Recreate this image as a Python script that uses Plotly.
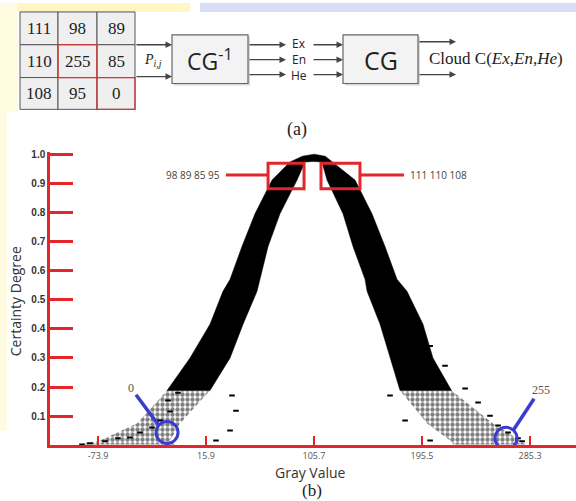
import plotly.graph_objects as go

# ---------------- data ----------------
x_tick_vals = [-73.9, 15.9, 105.7, 195.5, 285.3]
y_tick_vals = [0.1, 0.2, 0.3, 0.4, 0.5, 0.6, 0.7, 0.8, 0.9, 1.0]

# pixel matrix of panel (a)
table_values = [[111, 98, 89],
                [110, 255, 85],
                [108, 95, 0]]

# cloud envelopes (dense part, y >= 0.188)
lev_left = [0.188, 0.300, 0.416, 0.529, 0.570, 0.683, 0.795, 0.911, 0.973]
left_outer = [-16.5, 2.6, 19.2, 30.0, 35.9, 45.8, 56.6, 70.8, 85.7]
left_inner = [19.2, 35.9, 46.7, 58.3, 60.8, 67.5, 77.4, 91.6, 98.2]
lev_right = [0.973, 0.911, 0.795, 0.683, 0.570, 0.529, 0.416, 0.300, 0.188]
right_inner = [112.3, 116.5, 129.8, 138.1, 148.1, 149.8, 160.6, 168.9, 177.2]
right_outer = [120.7, 139.8, 153.9, 164.7, 174.7, 183.0, 196.3, 204.6, 220.0]
cap_x = [96.0, 105.7, 115.0]
cap_y = [0.993, 1.0, 0.993]
inner_apex = (105.0, 0.975)

# sparse tails (y < 0.188)
tail_lev = [0.188, 0.075, 0.017, 0.003]
tail_left_outer = [-16.5, -41.5, -72.2, -90.0]
tail_left_inner = [19.2, -5.7, -14.0, -10.0]
tail_right_inner = [177.2, 199.7, 218.8, 222.0]
tail_right_outer = [220.0, 254.5, 277.0, 282.0]

# scattered drops outside the envelope
drop_x = [-87.2, -80.6, -68.1, -57.3, -47.3, -39.0, -29.0, -22.3, -14.0, -15.7, -7.4, -1.6,
          9.2, 15.1, 20.9, 27.5, 37.5, 44.2, 37.5, 40.8, 24.2, 35.9,
          173.1, 187.2, 177.2, 202.2, 214.6, 168.9, 181.4, 202.2, 231.3, 242.1, 252.0,
          258.7, 267.0, 275.3, 278.7]
drop_y = [0.003, 0.007, 0.014, 0.024, 0.027, 0.044, 0.061, 0.085, 0.116, 0.154, 0.181, 0.235,
          0.263, 0.324, 0.379, 0.433, 0.495, 0.556, 0.171, 0.119, 0.017, 0.051,
          0.461, 0.410, 0.358, 0.341, 0.273, 0.171, 0.085, 0.017, 0.195, 0.147, 0.102,
          0.068, 0.044, 0.024, 0.014]

# highlighted drops (gray values 0 and 255)
hl_x = [-16.5, 265.3]
hl_y = [0.044, 0.024]
hl_labels = ["0", "255"]

W, H = 576, 501
def X(px):
    return px / W
def Y(py):
    return 1 - py / H

fig = go.Figure()

# dense part of the cloud
poly_x = left_outer + cap_x + right_outer[1:] + right_inner[::-1] + [inner_apex[0]] + left_inner[::-1]
poly_y = lev_left + cap_y + lev_right[1:] + lev_right[::-1] + [inner_apex[1]] + lev_left[::-1]
fig.add_trace(go.Scatter(x=poly_x + [poly_x[0]], y=poly_y + [poly_y[0]], mode="lines",
                         fill="toself", fillcolor="black", line=dict(width=0.5, color="black"),
                         hoverinfo="skip", showlegend=False))

# sparse tails
tx = tail_left_outer + tail_left_inner[::-1] + [tail_left_outer[0], None] + \
     tail_right_inner + tail_right_outer[::-1] + [tail_right_inner[0]]
ty = tail_lev + tail_lev[::-1] + [tail_lev[0], None] + tail_lev + tail_lev[::-1] + [tail_lev[0]]
fig.add_trace(go.Scatter(x=tx, y=ty, mode="lines", fill="toself",
                         fillcolor="rgba(255,255,255,0)",
                         fillpattern=dict(shape=".", fgcolor="black", bgcolor="rgba(255,255,255,0)",
                                          size=5, solidity=0.6),
                         line=dict(width=0), hoverinfo="skip", showlegend=False))

fig.add_trace(go.Scatter(x=drop_x, y=drop_y, mode="markers",
                         marker=dict(symbol="line-ew", size=4, color="black",
                                     line=dict(width=2, color="black")),
                         hoverinfo="skip", showlegend=False))

blue = "#3b3bd0"
fig.add_trace(go.Scatter(x=hl_x, y=hl_y, mode="markers",
                         marker=dict(symbol="circle-open", size=22, color=blue,
                                     line=dict(width=3, color=blue)),
                         hoverinfo="skip", showlegend=False))

shapes = []
annotations = []

def ann(**kw):
    kw.setdefault("showarrow", False)
    kw.setdefault("xanchor", "center")
    kw.setdefault("yanchor", "middle")
    annotations.append(kw)

# background slide artefacts
shapes.append(dict(type="rect", xref="paper", yref="paper", x0=X(0), x1=X(190), y0=Y(9), y1=Y(0),
                   fillcolor="#fff6c4", line=dict(width=0), layer="below"))
shapes.append(dict(type="rect", xref="paper", yref="paper", x0=X(200), x1=X(576), y0=Y(9), y1=Y(0),
                   fillcolor="#d9dcf7", line=dict(width=0), layer="below"))
shapes.append(dict(type="rect", xref="paper", yref="paper", x0=X(0), x1=X(18), y0=Y(110), y1=Y(0),
                   fillcolor="#fffbe0", line=dict(width=0), layer="below"))
shapes.append(dict(type="rect", xref="paper", yref="paper", x0=X(0), x1=X(7), y0=Y(430), y1=Y(110),
                   fillcolor="#fffbe0", line=dict(width=0), layer="below"))

# table
col_x = [20, 58, 97, 135]
row_y = [9, 42, 75, 107]
for r in range(3):
    for c in range(3):
        shapes.append(dict(type="rect", xref="paper", yref="paper",
                           x0=X(col_x[c]), x1=X(col_x[c + 1]), y0=Y(row_y[r + 1]), y1=Y(row_y[r]),
                           fillcolor="#efefef", line=dict(width=1, color="#555")))
        ann(xref="paper", yref="paper",
            x=X((col_x[c] + col_x[c + 1]) / 2), y=Y((row_y[r] + row_y[r + 1]) / 2),
            text=str(table_values[r][c]),
            font=dict(family="Liberation Serif", size=17, color="#222"))
for (r, c) in [(1, 1), (2, 2)]:
    shapes.append(dict(type="rect", xref="paper", yref="paper",
                       x0=X(col_x[c]), x1=X(col_x[c + 1]), y0=Y(row_y[r + 1]), y1=Y(row_y[r]),
                       fillcolor="rgba(0,0,0,0)", line=dict(width=1.2, color="#e03030")))

# boxes
for (x0, x1, txt, sz) in [(172, 248, "CG<sup>-1</sup>", 23), (343, 418, "CG", 25)]:
    shapes.append(dict(type="rect", xref="paper", yref="paper", x0=X(x0 + 2), x1=X(x1 + 2),
                       y0=Y(83), y1=Y(34), fillcolor="#d8d8d8", line=dict(width=0)))
    shapes.append(dict(type="rect", xref="paper", yref="paper", x0=X(x0), x1=X(x1),
                       y0=Y(81), y1=Y(32), fillcolor="#f3f3f3", line=dict(width=1.2, color="#666")))
    ann(xref="paper", yref="paper", x=X((x0 + x1) / 2), y=Y(57), text=txt,
        font=dict(family="Open Sans", size=sz, color="#222"))

def arrow(x0, x1, y):
    annotations.append(dict(xref="paper", yref="paper", x=X(x1), y=Y(y), axref="pixel", ayref="pixel",
                            ax=x0 - x1, ay=0, text="", showarrow=True, arrowhead=2, arrowsize=1,
                            arrowwidth=1.3, arrowcolor="#444"))

arrow(135, 172, 42)
arrow(135, 172, 74)
for yy in [42, 57, 72]:
    arrow(248, 286, yy)
    arrow(312, 343, yy)
arrow(418, 456, 39)
arrow(418, 456, 72)

for yy, t in zip([41, 57, 73], ["Ex", "En", "He"]):
    ann(xref="paper", yref="paper", x=X(299), y=Y(yy), text=t,
        font=dict(family="Open Sans", size=12, color="#222"))
ann(xref="paper", yref="paper", x=X(153), y=Y(58), text="<i>P</i><sub><i>i,j</i></sub>",
    font=dict(family="Liberation Serif", size=14, color="#222"))
ann(xref="paper", yref="paper", x=X(427), y=Y(56), xanchor="left",
    text="Cloud C(<i>Ex</i>,<i>En</i>,<i>He</i>)",
    font=dict(family="Liberation Serif", size=17, color="#222"))
ann(xref="paper", yref="paper", x=X(297), y=Y(127), text="(a)",
    font=dict(family="Liberation Serif", size=18, color="#222"))
ann(xref="paper", yref="paper", x=X(312), y=Y(490), text="(b)", borderpad=0,
    font=dict(family="Liberation Serif", size=17, color="#222"))

# axis titles
ann(xref="paper", yref="paper", x=X(15), y=Y(300), text="Certainty Degree", textangle=-90,
    font=dict(family="Open Sans", size=14, color="#333"))
ann(xref="paper", yref="paper", x=X(310), y=Y(462), yanchor="top", text="Gray Value", borderpad=0,
    font=dict(family="Open Sans", size=14, color="#333"))

# red boxes on the cloud
red = "#e3262b"
for (x0, x1) in [(67.5, 97.4), (111.5, 143.9)]:
    shapes.append(dict(type="rect", xref="x", yref="y", x0=x0, x1=x1, y0=0.881, y1=0.969,
                       line=dict(width=3, color=red)))
shapes.append(dict(type="line", xref="x", yref="y", x0=32.5, x1=67.5, y0=0.928, y1=0.928,
                   line=dict(width=3, color=red)))
shapes.append(dict(type="line", xref="x", yref="y", x0=143.9, x1=180.5, y0=0.928, y1=0.928,
                   line=dict(width=3, color=red)))
ann(xref="x", yref="y", x=29.0, y=0.928, xanchor="right",
    text=" ".join(str(v) for v in [98, 89, 85, 95]),
    font=dict(family="Open Sans", size=10, color="#444"))
ann(xref="x", yref="y", x=183.9, y=0.928, xanchor="left",
    text=" ".join(str(v) for v in [111, 110, 108]),
    font=dict(family="Open Sans", size=10, color="#444"))

# blue pointers
shapes.append(dict(type="line", xref="x", yref="y", x0=-42.3, y0=0.174, x1=-24.0, y1=0.072,
                   line=dict(width=3.5, color=blue)))
shapes.append(dict(type="line", xref="x", yref="y", x0=288.6, y0=0.160, x1=271.2, y1=0.051,
                   line=dict(width=3.5, color=blue)))
ann(xref="x", yref="y", x=-46.5, y=0.198, text=hl_labels[0],
    font=dict(family="Liberation Serif", size=12, color="#555"))
ann(xref="x", yref="y", x=294.4, y=0.190, text=hl_labels[1],
    font=dict(family="Liberation Serif", size=12, color="#555"))

fig.update_layout(
    width=W, height=H, margin=dict(l=0, r=0, t=0, b=0),
    paper_bgcolor="white", plot_bgcolor="rgba(0,0,0,0)",
    shapes=shapes, annotations=annotations, showlegend=False,
    xaxis=dict(domain=[X(50), 1.0], range=[-113.8, 323.5], showgrid=False, zeroline=False,
               showline=True, linecolor=red, linewidth=2.5,
               ticks="inside", ticklen=10, tickwidth=2, tickcolor=red,
               tickvals=x_tick_vals, ticktext=[f"{v:.1f}" for v in x_tick_vals],
               tickfont=dict(family="Open Sans", size=9, color="#555")),
    yaxis=dict(domain=[Y(445), Y(150)], range=[0, 1.007], showgrid=False, zeroline=False,
               showline=True, linecolor=red, linewidth=2.5,
               ticks="inside", ticklen=23, tickwidth=2.5, tickcolor=red,
               tickvals=y_tick_vals, ticktext=[f"<b>{v:.1f}</b>" for v in y_tick_vals],
               tickfont=dict(family="Liberation Sans", size=10, color="#333")),
)

fig.write_html("out.html", config={"displayModeBar": False},
               post_script="document.body.style.margin='0';document.body.style.overflow='hidden';")
